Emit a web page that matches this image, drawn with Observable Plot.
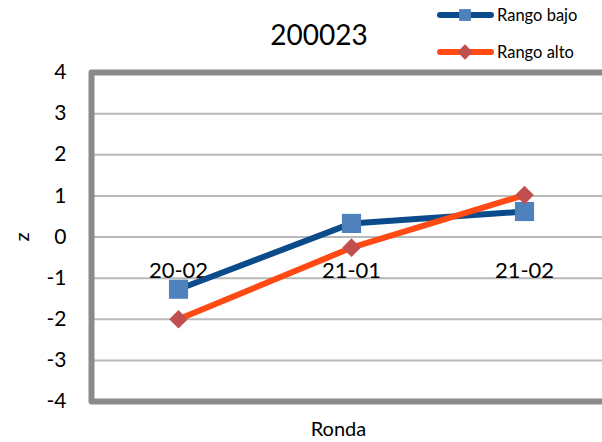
<!DOCTYPE html>
<html>
<head>
<meta charset="utf-8">
<script src="https://cdn.jsdelivr.net/npm/d3@7"></script>
<script src="https://cdn.jsdelivr.net/npm/@observablehq/plot@0.6"></script>
<style>
  html, body { margin: 0; padding: 0; background: white; overflow: hidden; }
  #wrap { position: relative; width: 602px; height: 442px; overflow: hidden; }
  #overlay { position: absolute; left: 0; top: 0; pointer-events: none; }
</style>
</head>
<body>
<div id="wrap"></div>
<script>
const title = "200023";
const categories = ["20-02", "21-01", "21-02"];
const rangoBajo = [-1.27, 0.33, 0.62];
const rangoAlto = [-2.0, -0.26, 1.02];
const seriesNames = ["Rango bajo", "Rango alto"];
const yTicks = [-4, -3, -2, -1, 0, 1, 2, 3, 4];
const xTitle = "Ronda";
const yTitle = "z";

const lineColors = ["#0B4A8B", "#FF4A14"];
const markColors = ["#4F81BD", "#C0504D"];
const symbols = ["square", "diamond2"];
const radii = [10.8, 8.4];

const seriesData = [rangoBajo, rangoAlto].map((vals, s) =>
  categories.map((c, i) => ({ ronda: c, z: vals[i], serie: seriesNames[s] }))
);

const font = "Lato, 'Open Sans', sans-serif";

const marks = [
  Plot.ruleY(yTicks, { stroke: "#b9b9b9", strokeWidth: 2 }),
  Plot.axisY({
    ticks: yTicks, tickSize: 0, tickPadding: 25, fontSize: 21,
    label: null, tickFormat: d => String(d), fill: "#000"
  }),
  Plot.frame({ stroke: "#8a8a8a", strokeWidth: 6, strokeLinejoin: "round" }),
  Plot.text(categories, {
    x: d => d, y: () => 0, dy: 34, fontSize: 22, fill: "#000",
    textAnchor: "middle", lineAnchor: "middle"
  })
];
seriesData.forEach((data, s) => {
  marks.push(
    Plot.line(data, { x: "ronda", y: "z", stroke: lineColors[s], strokeWidth: 6, strokeLinejoin: "round" }),
    Plot.dot(data, { x: "ronda", y: "z", symbol: symbols[s], r: radii[s], fill: markColors[s], stroke: "none" })
  );
});
marks.push(
  Plot.text([yTitle], {
    frameAnchor: "left", dx: -69, rotate: -90, fontSize: 20, fill: "#000",
    textAnchor: "middle", lineAnchor: "middle"
  }),
  Plot.text([xTitle], {
    frameAnchor: "bottom-left", dx: 247, dy: 28, fontSize: 20, fill: "#000",
    textAnchor: "middle", lineAnchor: "middle"
  })
);

const chart = Plot.plot({
  width: 602,
  height: 442,
  marginLeft: 91,
  marginRight: -8,
  marginTop: 72,
  marginBottom: 41,
  style: { fontFamily: font, background: "white" },
  x: { type: "point", domain: categories, padding: 0.5, axis: null },
  y: { domain: [-4, 4], axis: null },
  marks
});
const wrap = document.getElementById("wrap");
wrap.appendChild(chart);

// Title and legend overlay
const svg = d3.select(wrap).append("svg")
  .attr("id", "overlay").attr("width", 602).attr("height", 442)
  .style("font-family", font);

svg.append("text")
  .attr("x", 319).attr("y", 34)
  .attr("text-anchor", "middle").attr("dominant-baseline", "central")
  .attr("font-size", 28).attr("fill", "#000")
  .text(title);

const legendRows = [15, 52];
seriesNames.forEach((name, s) => {
  const g = svg.append("g").attr("transform", `translate(0,${legendRows[s]})`);
  g.append("line").attr("x1", 440).attr("x2", 491).attr("y1", 0).attr("y2", 0)
    .attr("stroke", lineColors[s]).attr("stroke-width", 6).attr("stroke-linecap", "round");
  const sym = s === 0 ? d3.symbolSquare : d3.symbolDiamond2;
  const size = s === 0 ? 140 : 150;
  g.append("path").attr("d", d3.symbol(sym, size)())
    .attr("transform", "translate(465,0)").attr("fill", markColors[s]);
  g.append("text").attr("x", 497).attr("y", 0)
    .attr("dominant-baseline", "central").attr("font-size", 16.5).attr("fill", "#000")
    .text(name);
});
</script>
</body>
</html>
